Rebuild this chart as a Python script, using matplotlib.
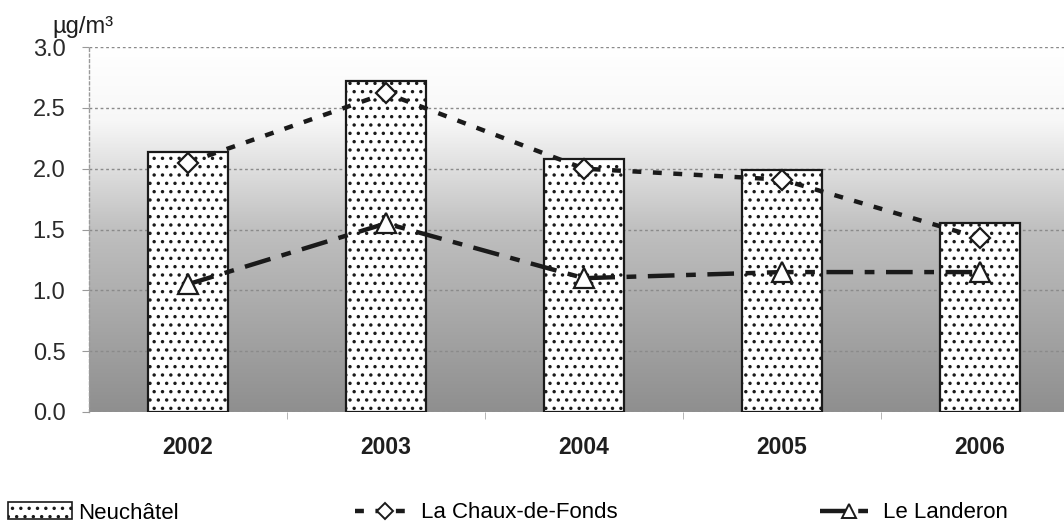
import matplotlib
matplotlib.use("Agg")
import matplotlib.pyplot as plt
import numpy as np
from matplotlib.patches import Patch
from matplotlib.lines import Line2D
from matplotlib.colors import LinearSegmentedColormap

plt.rcParams['font.family'] = ['Liberation Sans', 'DejaVu Sans']
plt.rcParams['hatch.linewidth'] = 1.25

years = ['2002', '2003', '2004', '2005', '2006']
neuchatel = [2.14, 2.72, 2.08, 1.99, 1.55]
chaux = [2.05, 2.62, 2.00, 1.91, 1.43]
landeron = [1.05, 1.55, 1.10, 1.15, 1.15]
yticks = [0.0, 0.5, 1.0, 1.5, 2.0, 2.5, 3.0]

W, H = 1064, 529
fig = plt.figure(figsize=(W / 100, H / 100), dpi=100)
ax = fig.add_axes([89 / W, (H - 412) / H, 990 / W, 365 / H])

x = np.arange(len(years))
ax.set_xlim(-0.5, 4.5)
ax.set_ylim(0, 3.0)

# background gradient
cmap = LinearSegmentedColormap.from_list(
    'bg', [(0.0, (0.56, 0.56, 0.56)), (0.5, (0.75, 0.75, 0.75)),
           (0.8, (0.97, 0.97, 0.97)), (1.0, (1, 1, 1))])
grad = np.linspace(0, 1, 256).reshape(-1, 1)
ax.imshow(grad, aspect='auto', cmap=cmap, origin='lower',
          extent=[-0.5, 4.5, 0, 3.0], zorder=0)

for yv in yticks[1:]:
    ax.axhline(yv, color='#8a8a8a', lw=1, ls=(0, (2, 2)), zorder=1)

ax.bar(x, neuchatel, width=0.405, facecolor='white', edgecolor='#1a1a1a',
       hatch='..', lw=1.6, zorder=2)

ax.plot(x, chaux, color='#1a1a1a', lw=3.2, ls=(0, (2.0, 2.6)),
        marker='D', markersize=10, markerfacecolor='white',
        markeredgecolor='#1a1a1a', markeredgewidth=1.6, zorder=3)
ax.plot(x, landeron, color='#1a1a1a', lw=3.2, ls=(0, (6, 2.6, 2.2, 2.6)),
        marker='^', markersize=15, markerfacecolor='white',
        markeredgecolor='#1a1a1a', markeredgewidth=1.6, zorder=3)

for s in ['top', 'right', 'bottom']:
    ax.spines[s].set_visible(False)
ax.spines['left'].set_color('#9a9a9a')
ax.spines['left'].set_linestyle((0, (2, 2)))
ax.spines['left'].set_linewidth(1)
ax.axhline(0, color='#9a9a9a', lw=1, ls=(0, (2, 2)), zorder=1)

ax.set_yticks(yticks)
ax.set_yticklabels([f'{v:.1f}' for v in yticks], fontsize=17, color='#2a2a2a')
ax.tick_params(axis='y', length=5, color='#9a9a9a', pad=12)

ax.set_xticks(x)
ax.set_xticklabels(years, fontsize=16.5, fontweight='bold', color='#1e1e1e')
ax.tick_params(axis='x', length=0, pad=17)
ax.set_xticks(np.arange(0.5, 4.5, 1.0), minor=True)
ax.tick_params(axis='x', which='minor', length=5, color='#aaaaaa')

fig.text(52 / W, 1 - 27 / H, 'µg/m³', fontsize=17, color='#1e1e1e',
         ha='left', va='center')

# legends
leg_kw = dict(frameon=False, fontsize=16, loc='center left',
              handletextpad=0.25, borderpad=0, borderaxespad=0)
h1 = Patch(facecolor='white', edgecolor='#1a1a1a', hatch='..', lw=1.2)
l1 = fig.legend([h1], ['Neuchâtel'], bbox_to_anchor=(8 / W, 1 - 513 / H),
                handlelength=2.9, handleheight=0.8, **leg_kw)
h2 = Line2D([], [], color='#1a1a1a', lw=3.2, ls=(0, (2.0, 2.6)), marker='D',
            markersize=8, markerfacecolor='white', markeredgecolor='#1a1a1a',
            markeredgewidth=1.4)
l2 = fig.legend([h2], ['La Chaux-de-Fonds'], bbox_to_anchor=(355 / W, 1 - 513 / H),
                handlelength=2.7, **leg_kw)
h3 = Line2D([], [], color='#1a1a1a', lw=3.2, ls=(0, (6, 2.6, 2.2, 2.6)), marker='^',
            markersize=10, markerfacecolor='white', markeredgecolor='#1a1a1a',
            markeredgewidth=1.4)
l3 = fig.legend([h3], ['Le Landeron'], bbox_to_anchor=(820 / W, 1 - 513 / H),
                handlelength=2.6, **leg_kw)

fig.savefig('out.png', dpi=100, facecolor='white')
